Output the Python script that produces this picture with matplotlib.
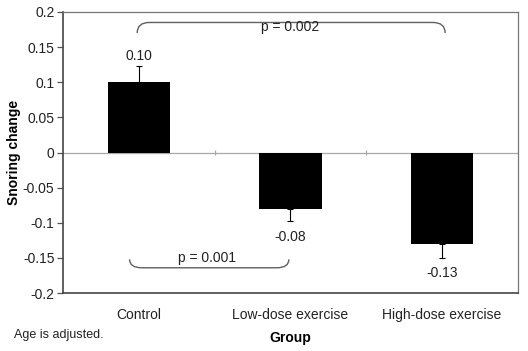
#! /usr/bin/env python3

"""Snoring change by exercise group, bar chart with error bars and p-value brackets."""

import matplotlib
matplotlib.use('Agg')
import matplotlib.pyplot as plt
from matplotlib.path import Path
from matplotlib.patches import PathPatch

plt.rcParams['font.family'] = ['Liberation Sans', 'DejaVu Sans']

groups = ['Control', 'Low-dose exercise', 'High-dose exercise']
changes = [0.10, -0.08, -0.13]
errors = [0.023, 0.018, 0.02]
value_labels = ['0.10', '-0.08', '-0.13']
yticks = [0.2, 0.15, 0.1, 0.05, 0, -0.05, -0.1, -0.15, -0.2]
ytick_labels = ['0.2', '0.15', '0.1', '0.05', '0', '-0.05', '-0.1', '-0.15', '-0.2']
comparisons = [('p = 0.002', 0, 2), ('p = 0.001', 0, 1)]


def bracket(ax, x0, x1, y_line, y_end, dx):
    """Draw a bracket with rounded ends."""
    verts = [(x0, y_end), (x0, y_line), (x0 + dx, y_line),
             (x1 - dx, y_line),
             (x1, y_line), (x1, y_end)]
    codes = [Path.MOVETO, Path.CURVE3, Path.CURVE3,
             Path.LINETO,
             Path.CURVE3, Path.CURVE3]
    ax.add_patch(PathPatch(Path(verts, codes), facecolor='none',
                           edgecolor='#606060', lw=1.0))


def main():
    fig = plt.figure(figsize=(5.28, 3.51), dpi=100)
    ax = fig.add_axes([0.119, 0.165, 0.862, 0.801])

    x = list(range(len(groups)))
    ax.bar(x, changes, width=0.41, color='black', zorder=3)

    lower = [0 if v > 0 else e for v, e in zip(changes, errors)]
    upper = [e if v > 0 else 0 for v, e in zip(changes, errors)]
    ax.errorbar(x, changes, yerr=[lower, upper], fmt='none',
                ecolor='black', elinewidth=0.8, capsize=2, capthick=0.8,
                zorder=2)

    ax.axhline(0, color='#a8a8a8', lw=0.9, zorder=1)
    ax.vlines([0.5, 1.5], -0.004, 0.004, color='#a8a8a8', lw=0.9)

    # value labels
    for xi, v, e, lab in zip(x, changes, errors, value_labels):
        if v > 0:
            ax.text(xi, v + e + 0.004, lab, ha='center', va='bottom',
                    fontsize=10, color='#222222')
        else:
            ax.text(xi, v - e - 0.012, lab, ha='center', va='top',
                    fontsize=10, color='#222222')

    # p-value brackets
    label, a, b = comparisons[0]
    bracket(ax, a - 0.01, b + 0.02, 0.185, 0.170, 0.08)
    ax.text((a + b) / 2, 0.178, label, ha='center', va='center',
            fontsize=10, color='#222222')
    label, a, b = comparisons[1]
    bracket(ax, a - 0.06, b - 0.01, -0.164, -0.152, 0.08)
    ax.text(0.45, -0.150, label, ha='center', va='center',
            fontsize=10, color='#222222')

    ax.set_xlim(-0.5, 2.5)
    ax.set_ylim(-0.2, 0.2)
    ax.set_yticks(yticks)
    ax.set_yticklabels(ytick_labels, fontsize=10, color='#222222')
    ax.set_xticks(x)
    ax.set_xticklabels(groups, fontsize=10, color='#222222')
    ax.tick_params(axis='x', length=0, pad=11)
    ax.tick_params(axis='y', length=4, width=0.9, color='#555555', pad=2)

    for side in ['top', 'right']:
        ax.spines[side].set_color('#777777')
        ax.spines[side].set_linewidth(0.9)
    for side in ['left', 'bottom']:
        ax.spines[side].set_color('#444444')
        ax.spines[side].set_linewidth(1.2)

    ax.set_ylabel('Snoring change', fontsize=10, fontweight='bold')
    ax.yaxis.set_label_coords(-42 / 455, 0.5)
    ax.set_xlabel('Group', fontsize=10, fontweight='bold', labelpad=6)
    fig.text(14 / 528, 1 - 335 / 351, 'Age is adjusted.', fontsize=9,
             ha='left', va='center', color='#222222')

    fig.savefig('out.png', dpi=100)


if __name__ == "__main__":
    main()
